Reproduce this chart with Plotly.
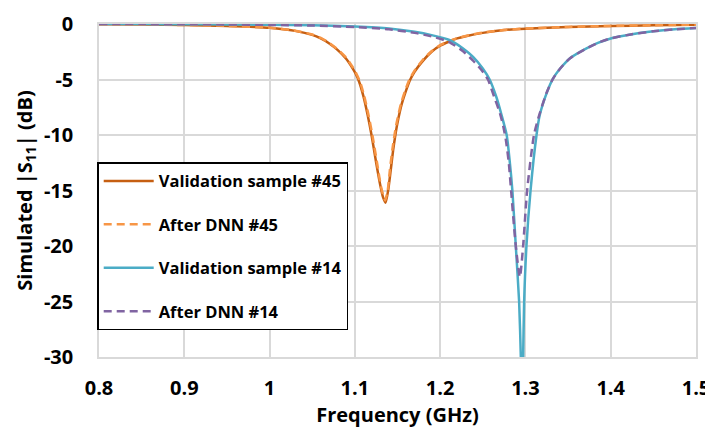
import plotly.graph_objects as go

# ---- data ----
f_val45 = [0.80, 0.85, 0.90, 0.95, 1.00, 1.03, 1.05, 1.06, 1.07, 1.08, 1.09, 1.095, 1.10, 1.105, 1.11,
           1.115, 1.12, 1.125, 1.13, 1.133, 1.136, 1.139, 1.142, 1.145, 1.1475, 1.15, 1.155,
           1.16, 1.165, 1.17, 1.18, 1.19, 1.20, 1.21, 1.22, 1.23, 1.25, 1.275, 1.30, 1.35,
           1.40, 1.45, 1.50]
s_val45 = [-0.03, -0.05, -0.09, -0.17, -0.34, -0.62, -0.98, -1.3, -1.75, -2.35, -3.15, -3.7, -4.35, -5.2, -6.5,
           -8.2, -10.2, -12.5, -14.6, -15.6, -16.1, -15.0, -13.2, -11.3, -10.0, -8.9, -7.2,
           -6.0, -5.0, -4.3, -3.3, -2.5, -1.95, -1.6, -1.3, -1.1, -0.8, -0.55, -0.42, -0.27,
           -0.18, -0.12, -0.07]

f_dnn45 = [0.80, 0.85, 0.90, 0.95, 1.00, 1.03, 1.05, 1.06, 1.07, 1.08, 1.09, 1.095, 1.10, 1.106, 1.111,
           1.116, 1.121, 1.126, 1.1305, 1.1335, 1.1355, 1.1385, 1.141, 1.144, 1.1465, 1.149, 1.154,
           1.159, 1.164, 1.17, 1.18, 1.19, 1.20, 1.21, 1.22, 1.23, 1.25, 1.275, 1.30, 1.35,
           1.40, 1.45, 1.50]
s_dnn45 = [-0.03, -0.05, -0.09, -0.17, -0.33, -0.6, -0.95, -1.25, -1.7, -2.3, -3.05, -3.6, -4.2, -5.2, -6.5,
           -8.2, -10.2, -12.5, -14.6, -15.5, -15.9, -15.0, -13.2, -11.3, -10.0, -8.9, -7.2,
           -6.0, -5.0, -4.2, -3.2, -2.45, -1.9, -1.55, -1.28, -1.08, -0.78, -0.54, -0.41, -0.26,
           -0.17, -0.11, -0.06]

f_val14 = [0.80, 0.85, 0.90, 0.95, 1.00, 1.05, 1.10, 1.14, 1.17, 1.19, 1.21, 1.2269, 1.2386, 1.25,
           1.258, 1.266, 1.272, 1.278, 1.2815, 1.2847, 1.2887, 1.2926, 1.2946, 1.2959, 1.2973,
           1.2985, 1.3012, 1.306, 1.313, 1.3168, 1.325, 1.3325, 1.342, 1.352, 1.3716, 1.385,
           1.40, 1.425, 1.45, 1.475, 1.50]
s_val14 = [0.0, -0.01, -0.02, -0.04, -0.07, -0.12, -0.23, -0.40, -0.70, -1.0, -1.42, -2.2, -2.96, -4.0,
           -5.0, -6.6, -8.2, -10.0, -12.3, -15.0, -20.0, -25.0, -30.0, -36.0, -30.0,
           -25.0, -20.0, -15.0, -10.0, -8.2, -6.2, -4.9, -3.9, -3.1, -2.2, -1.7,
           -1.3, -0.92, -0.66, -0.48, -0.36]

f_dnn14 = [0.80, 0.85, 0.90, 0.95, 1.00, 1.05, 1.10, 1.14, 1.17, 1.19, 1.21, 1.2269, 1.2386, 1.248,
           1.256, 1.2635, 1.27, 1.274, 1.277, 1.2805, 1.2832, 1.2887, 1.2935, 1.2973, 1.302, 1.310,
           1.3162, 1.3248, 1.3325, 1.342, 1.352, 1.3716, 1.385, 1.40, 1.425, 1.45, 1.475, 1.50]
s_dnn14 = [0.0, -0.01, -0.02, -0.04, -0.08, -0.14, -0.27, -0.48, -0.8, -1.12, -1.6, -2.45, -3.3, -4.1,
           -5.0, -6.6, -8.0, -9.2, -10.4, -12.5, -15.0, -20.0, -22.8, -20.0, -15.0, -10.0,
           -8.2, -6.2, -4.9, -3.9, -3.1, -2.2, -1.7, -1.3, -0.92, -0.66, -0.48, -0.36]

x_ticks = [0.8, 0.9, 1.0, 1.1, 1.2, 1.3, 1.4, 1.5]
x_ticktext = ["0.8", "0.9", "1", "1.1", "1.2", "1.3", "1.4", "1.5"]
y_ticks = [0, -5, -10, -15, -20, -25, -30]
y_ticktext = ["0", "-5", "-10", "-15", "-20", "-25", "-30"]

names = ["Validation sample #45", "After DNN #45", "Validation sample #14", "After DNN #14"]

FONT = "Open Sans"
SM = 0.6
fig = go.Figure()
fig.add_trace(go.Scatter(x=f_val45, y=s_val45, mode="lines", name=names[0], legendgroup="a",
                         line=dict(color="#C65F12", width=2.5, shape="spline", smoothing=SM)))
fig.add_trace(go.Scatter(x=f_dnn45, y=s_dnn45, mode="lines", name=names[1], legendgroup="b",
                         line=dict(color="#F79646", width=2.5, dash="8px,5px", shape="spline", smoothing=SM)))
fig.add_trace(go.Scatter(x=f_val14, y=s_val14, mode="lines", name=names[2], legendgroup="c",
                         line=dict(color="#4BACC6", width=2.5, shape="spline", smoothing=SM)))
fig.add_trace(go.Scatter(x=f_dnn14, y=s_dnn14, mode="lines", name=names[3], legendgroup="d",
                         line=dict(color="#8064A2", width=2.5, dash="8px,5px", shape="spline", smoothing=SM)))

# the page body adds an 8px offset, so the figure is 8px smaller than the window
fig.update_layout(
    width=705, height=427,
    margin=dict(l=91, r=17, t=16, b=78),
    paper_bgcolor="white", plot_bgcolor="white",
    font=dict(family=FONT, color="black", size=16, weight="bold"),
    legend=dict(x=-0.003, y=0.585, xanchor="left", yanchor="top",
                bgcolor="white", bordercolor="black", borderwidth=1.5,
                font=dict(family=FONT, size=16.5, weight="bold"),
                tracegroupgap=19, traceorder="grouped", itemwidth=50),
    showlegend=True,
)
fig.update_xaxes(range=[0.8, 1.5], tickvals=x_ticks, ticktext=x_ticktext,
                 showgrid=True, gridcolor="#D9D9D9", gridwidth=1.5,
                 showline=True, linecolor="#D9D9D9", linewidth=1.5, mirror=True,
                 zeroline=False, ticks="", ticklabelstandoff=12, automargin=False,
                 tickfont=dict(family=FONT, size=20, weight="bold"),
                 title=dict(text="Frequency (GHz)", font=dict(family=FONT, size=20, weight="bold"),
                            standoff=8))
fig.update_yaxes(range=[-30, 0], tickvals=y_ticks, ticktext=y_ticktext,
                 showgrid=True, gridcolor="#D9D9D9", gridwidth=1.5,
                 showline=True, linecolor="#D9D9D9", linewidth=1.5, mirror=True,
                 zeroline=False, ticks="", ticklabelstandoff=20, automargin=False,
                 tickfont=dict(family=FONT, size=20, weight="bold"),
                 title=dict(text="Simulated |S<sub>11</sub>| (dB)",
                            font=dict(family=FONT, size=20, weight="bold"), standoff=6))

fig.write_html("out.html")
